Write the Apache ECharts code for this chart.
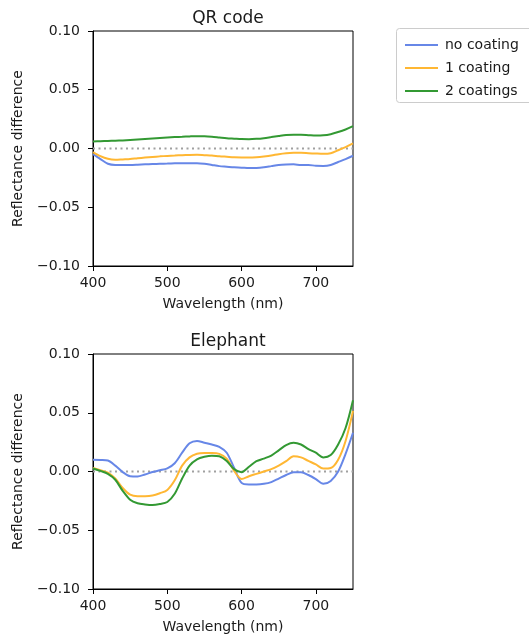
<!DOCTYPE html>
<html>
<head>
<meta charset="utf-8">
<script src="https://cdn.jsdelivr.net/npm/echarts@6/dist/echarts.min.js"></script>
<style>html,body{margin:0;padding:0;background:#fff;}#c{width:529px;height:638px;}</style>
</head>
<body>
<div id="c"></div>
<script>
const wavelengths = [400,410,420,430,440,450,460,470,480,490,500,510,520,530,540,550,560,570,580,590,600,610,620,630,640,650,660,670,680,690,700,710,720,730,740,750];
const seriesNames = ['no coating', '1 coating', '2 coatings'];
const panelTitles = ['QR code', 'Elephant'];
const xTicks = [400, 500, 600, 700];

const qrNoCoating = [-0.0048,-0.009,-0.013,-0.014,-0.014,-0.014,-0.0138,-0.0135,-0.0132,-0.013,-0.0128,-0.0126,-0.0125,-0.0125,-0.0125,-0.013,-0.014,-0.015,-0.0155,-0.016,-0.0163,-0.0167,-0.0166,-0.016,-0.015,-0.014,-0.0136,-0.0135,-0.014,-0.014,-0.0147,-0.0148,-0.014,-0.0115,-0.009,-0.0062];
const qr1Coating = [-0.003,-0.0065,-0.0088,-0.0096,-0.0093,-0.009,-0.0083,-0.0077,-0.0072,-0.0067,-0.0063,-0.006,-0.0057,-0.0055,-0.0054,-0.0057,-0.006,-0.0066,-0.007,-0.0074,-0.0076,-0.0077,-0.0074,-0.0068,-0.006,-0.0048,-0.004,-0.0037,-0.0037,-0.004,-0.0043,-0.0045,-0.004,-0.0015,0.0012,0.0043];
const qr2Coatings = [0.006,0.0062,0.0064,0.0066,0.0069,0.0073,0.0077,0.0081,0.0085,0.0089,0.0093,0.0097,0.010,0.0103,0.0105,0.0104,0.010,0.0094,0.0088,0.0084,0.008,0.0079,0.0082,0.0088,0.0097,0.0106,0.0114,0.0117,0.0116,0.0113,0.011,0.0112,0.0122,0.014,0.0162,0.019];

const elNoCoating = [0.010,0.0098,0.0093,0.005,-0.0005,-0.004,-0.0042,-0.0025,-0.0005,0.001,0.0026,0.007,0.016,0.024,0.026,0.0245,0.023,0.021,0.016,0.003,-0.0097,-0.011,-0.011,-0.0105,-0.009,-0.006,-0.003,-0.0006,-0.0006,-0.003,-0.0065,-0.0105,-0.008,0.000,0.015,0.033];
const el1Coating = [0.003,0.001,-0.001,-0.006,-0.014,-0.0197,-0.021,-0.021,-0.0205,-0.0185,-0.0157,-0.0075,0.005,0.012,0.0151,0.0157,0.0157,0.015,0.011,0.0005,-0.0063,-0.004,-0.002,0,0.002,0.005,0.0088,0.013,0.012,0.009,0.006,0.0025,0.003,0.010,0.026,0.0516];
const el2Coatings = [0.0026,0.0005,-0.002,-0.007,-0.0165,-0.024,-0.027,-0.028,-0.0285,-0.0277,-0.026,-0.019,-0.006,0.005,0.0103,0.0125,0.0135,0.013,0.009,0.002,-0.0006,0.004,0.0088,0.011,0.0135,0.018,0.0225,0.0245,0.023,0.019,0.016,0.012,0.014,0.023,0.037,0.0607];

const colors = ['#6787e7', '#ffb733', '#339933'];
const textColor = '#1a1a1a';
const font = 'DejaVu Sans';

const panels = [[qrNoCoating, qr1Coating, qr2Coatings], [elNoCoating, el1Coating, el2Coatings]];
const gridTops = [31, 354];

function fmtY(v) {
  const s = Math.abs(v) < 1e-9 ? '0.00' : v.toFixed(2);
  return s.replace('-', '\u2212');
}

const grids = [], xAxes = [], yAxes = [], series = [], titles = [];
panels.forEach((vals, p) => {
  grids.push({left: 93, top: gridTops[p], width: 260, height: 235, show: true, borderColor: '#000', borderWidth: 1, backgroundColor: 'transparent'});
  titles.push({text: panelTitles[p], left: 223, top: gridTops[p] - 26, textAlign: 'center',
    textStyle: {fontFamily: font, fontSize: 17, fontWeight: 'normal', color: textColor}});
  xAxes.push({type: 'value', gridIndex: p, min: 400, max: 750, interval: 100,
    name: 'Wavelength (nm)', nameLocation: 'middle', nameGap: 31,
    nameTextStyle: {fontFamily: font, fontSize: 14, color: textColor},
    axisLine: {show: true, onZero: false, lineStyle: {color: '#000', width: 1}},
    axisTick: {show: true, length: 5, lineStyle: {color: '#000'}, customValues: xTicks},
    axisLabel: {fontFamily: font, fontSize: 14, color: textColor, margin: 10, customValues: xTicks},
    splitLine: {show: false}});
  yAxes.push({type: 'value', gridIndex: p, min: -0.1, max: 0.1, interval: 0.05,
    name: 'Reflectance difference', nameLocation: 'middle', nameGap: 68,
    nameTextStyle: {fontFamily: font, fontSize: 14, color: textColor},
    axisLine: {show: true, onZero: false, lineStyle: {color: '#000', width: 1}},
    axisTick: {show: true, length: 5, lineStyle: {color: '#000'}},
    axisLabel: {fontFamily: font, fontSize: 14, color: textColor, margin: 13, formatter: fmtY},
    splitLine: {show: false}});
  series.push({type: 'line', xAxisIndex: p, yAxisIndex: p, data: [[400, 0], [750, 0]],
    showSymbol: false, silent: true, z: 1,
    lineStyle: {color: '#a0a0a0', width: 2, type: [2, 3.5]}});
  vals.forEach((arr, i) => {
    series.push({name: seriesNames[i], type: 'line', xAxisIndex: p, yAxisIndex: p,
      data: wavelengths.map((w, k) => [w, arr[k]]),
      showSymbol: false, symbol: 'none', smooth: 0.3, z: 3 + i,
      lineStyle: {color: colors[i], width: 2}, itemStyle: {color: colors[i]}});
  });
});

const chart = echarts.init(document.getElementById('c'), null, {renderer: 'canvas'});
chart.setOption({
  animation: false,
  backgroundColor: '#fff',
  title: titles,
  grid: grids,
  xAxis: xAxes,
  yAxis: yAxes,
  series: series,
  legend: {data: seriesNames, orient: 'vertical', left: 400, top: 33, itemWidth: 33, itemHeight: 14, itemGap: 9,
    icon: 'path://M0,6 L33,6 L33,8 L0,8 Z',
    textStyle: {fontFamily: font, fontSize: 14, color: textColor, padding: [0, 0, 0, 2]}},
  graphic: [{type: 'rect', shape: {x: 396.5, y: 28.5, width: 140, height: 74, r: 3},
    style: {fill: 'none', stroke: '#cccccc', lineWidth: 1}, z: 10}]
});
</script>
</body>
</html>
